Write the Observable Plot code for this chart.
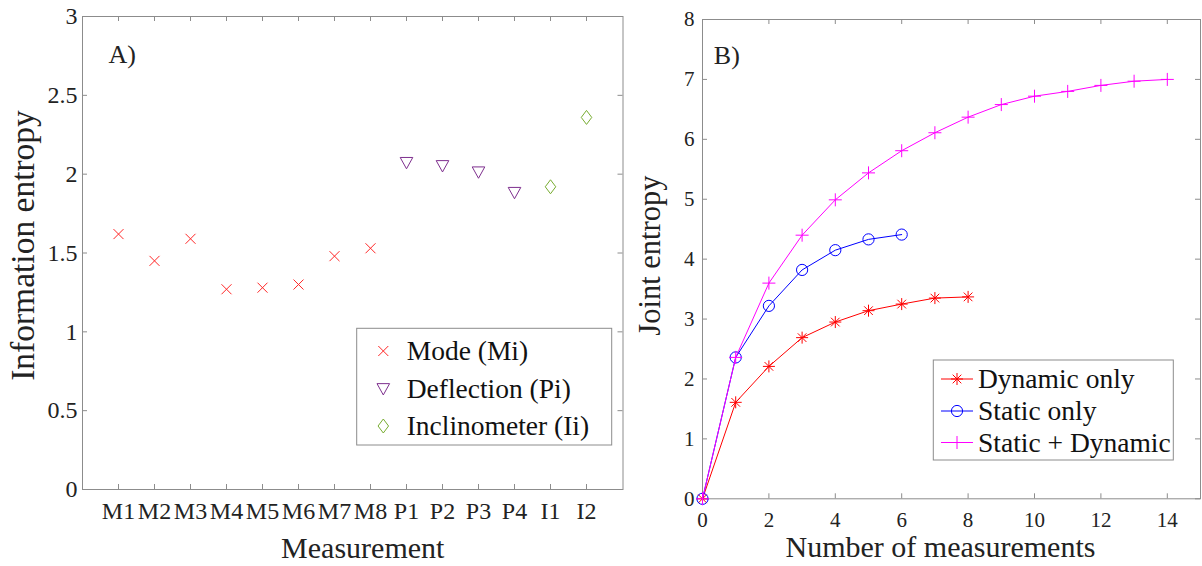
<!DOCTYPE html>
<html><head><meta charset="utf-8">
<script src="https://cdn.jsdelivr.net/npm/d3@7"></script>
<script src="https://cdn.jsdelivr.net/npm/@observablehq/plot@0.6"></script>
<style>
body{margin:0;background:#fff;}
#wrap{position:relative;width:1202px;height:566px;overflow:hidden;background:#fff;}
#wrap svg{position:absolute;top:0;}
</style></head><body><div id="wrap"></div>
<script>
// ---------- data: panel A ----------
const categories = ["M1","M2","M3","M4","M5","M6","M7","M8","P1","P2","P3","P4","I1","I2"];
const groupNames = ["Mode (Mi)","Deflection (Pi)","Inclinometer (Ii)"];
const modeValues = [1.62,1.45,1.59,1.27,1.28,1.30,1.48,1.53];
const deflectionValues = [2.07,2.05,2.01,1.88];
const inclinometerValues = [1.92,2.36];
const leftYTicks = [0,0.5,1,1.5,2,2.5,3];

// ---------- data: panel B ----------
const seriesNames = ["Dynamic only","Static only","Static + Dynamic"];
const dynamicOnly = [0,1.61,2.21,2.69,2.95,3.14,3.25,3.35,3.37];
const staticOnly = [0,2.36,3.22,3.82,4.15,4.33,4.41];
const staticDynamic = [0,2.36,3.60,4.40,4.99,5.44,5.81,6.11,6.37,6.58,6.72,6.80,6.90,6.97,7.00];
const rightXTicks = [0,2,4,6,8,10,12,14];
const rightYTicks = [0,1,2,3,4,5,6,7,8];

// ---------- style ----------
const FONT = "'Liberation Serif','Times New Roman',serif";
const FRAME = "#8c8c8c";
const INK = "#222";
const H = 566;
const fmt = d => String(d);

function sym(draw){ return {draw(ctx,size){ const h=Math.sqrt(size/Math.PI); draw(ctx,h);} }; }
const symTimes = sym((c,h)=>{c.moveTo(-h,-h);c.lineTo(h,h);c.moveTo(-h,h);c.lineTo(h,-h);});
const symTriDown = sym((c,h)=>{c.moveTo(-h,-0.9*h);c.lineTo(h,-0.9*h);c.lineTo(0,0.9*h);c.closePath();});
const symDiamond = sym((c,h)=>{c.moveTo(0,-h);c.lineTo(0.75*h,0);c.lineTo(0,h);c.lineTo(-0.75*h,0);c.closePath();});
const symAsterisk = sym((c,h)=>{c.moveTo(0,-h);c.lineTo(0,h);c.moveTo(-h,0);c.lineTo(h,0);const d=h*0.72;c.moveTo(-d,-d);c.lineTo(d,d);c.moveTo(-d,d);c.lineTo(d,-d);});
const symPlus = sym((c,h)=>{c.moveTo(0,-h);c.lineTo(0,h);c.moveTo(-h,0);c.lineTo(h,0);});
const symCircle = sym((c,h)=>{c.moveTo(h,0);c.arc(0,0,h,0,2*Math.PI);});

const leftStyles = [
  {symbol: symTimes, r: 5, color: "#ff2626"},
  {symbol: symTriDown, r: 6.3, color: "#7E2F8E"},
  {symbol: symDiamond, r: 7, color: "#77AC30"}
];
const rightStyles = [
  {symbol: symAsterisk, r: 6, color: "#ff0000"},
  {symbol: symCircle, r: 5.6, color: "#0000ff"},
  {symbol: symPlus, r: 6.5, color: "#ff00ff"}
];

const wrap = document.getElementById("wrap");

// ---------- panel A ----------
const leftW = 640;
const LM = {top:16, bottom:77, left:82, right:17.5};
const lfH = H - LM.top - LM.bottom, lfW = leftW - LM.left - LM.right;
const groupValues = [modeValues, deflectionValues, inclinometerValues];
let offset = 0;
const leftRows = [];
groupValues.forEach((vals, g) => {
  vals.forEach((v, i) => leftRows.push({cat: categories[offset + i], value: v, group: g}));
  offset += vals.length;
});

const left = Plot.plot({
  width: leftW, height: H,
  marginTop: LM.top, marginBottom: LM.bottom, marginLeft: LM.left, marginRight: LM.right,
  style: {fontFamily: FONT, background: "transparent", color: INK},
  x: {type: "point", domain: categories, padding: 1},
  y: {domain: [0, 3]},
  marks: [
    Plot.frame({stroke: FRAME}),
    Plot.tickX(categories, {x: d => d, insetTop: lfH - 5, stroke: FRAME}),
    Plot.tickX(categories, {x: d => d, insetBottom: lfH - 5, stroke: FRAME}),
    Plot.tickY(leftYTicks, {y: d => d, insetRight: lfW - 5, stroke: FRAME}),
    Plot.tickY(leftYTicks, {y: d => d, insetLeft: lfW - 5, stroke: FRAME}),
    Plot.axisX({tickSize: 0, tickPadding: 12, fontSize: 24, label: null, fill: INK}),
    Plot.axisY({ticks: leftYTicks, tickFormat: fmt, tickSize: 0, tickPadding: 5, fontSize: 24, label: null, fill: INK}),
    ...groupNames.map((name, g) => Plot.dot(leftRows.filter(d => d.group === g), {
      x: "cat", y: "value", symbol: leftStyles[g].symbol, r: leftStyles[g].r,
      stroke: leftStyles[g].color, fill: "none", strokeWidth: 1
    })),
    Plot.text(["A)"], {text: d => d, frameAnchor: "top-left", textAnchor: "start", lineAnchor: "middle", dx: 26, dy: 38, fontSize: 26, fill: INK}),
    Plot.text(["Measurement"], {text: d => d, frameAnchor: "bottom", textAnchor: "middle", lineAnchor: "middle", dx: 10, dy: 59, fontSize: 30, fill: INK}),
    Plot.text(["Information entropy"], {text: d => d, frameAnchor: "left", textAnchor: "middle", lineAnchor: "middle", rotate: -90, dx: -59, dy: -7.5, fontSize: 33.5, fill: INK})
  ]
});
left.style.left = "0px";
wrap.appendChild(left);

// ---------- panel B ----------
const rightLeft = 620;
const rightW = 1202 - rightLeft;
const RM = {top:19, bottom:67.7, left:82, right:2};
const rightSeries = [dynamicOnly, staticOnly, staticDynamic];
const rightRows = [];
rightSeries.forEach((vals, s) => vals.forEach((v, i) => rightRows.push({n: i, value: v, series: s})));
const rfH = H - RM.top - RM.bottom, rfW = rightW - RM.left - RM.right;

const right = Plot.plot({
  width: rightW, height: H,
  marginTop: RM.top, marginBottom: RM.bottom, marginLeft: RM.left, marginRight: RM.right,
  style: {fontFamily: FONT, background: "transparent", color: INK},
  x: {domain: [0, 15]},
  y: {domain: [0, 8]},
  marks: [
    Plot.frame({stroke: FRAME}),
    Plot.tickX(rightXTicks, {x: d => d, insetTop: rfH - 5, stroke: FRAME}),
    Plot.tickX(rightXTicks, {x: d => d, insetBottom: rfH - 5, stroke: FRAME}),
    Plot.tickY(rightYTicks, {y: d => d, insetRight: rfW - 5, stroke: FRAME}),
    Plot.tickY(rightYTicks, {y: d => d, insetLeft: rfW - 5, stroke: FRAME}),
    Plot.axisX({ticks: rightXTicks, tickFormat: fmt, tickSize: 0, tickPadding: 13, fontSize: 21, label: null, fill: INK}),
    Plot.axisY({ticks: rightYTicks, tickFormat: fmt, tickSize: 0, tickPadding: 8, fontSize: 21, label: null, fill: INK}),
    ...seriesNames.flatMap((name, s) => [
      Plot.line(rightRows.filter(d => d.series === s), {x: "n", y: "value", stroke: rightStyles[s].color, strokeWidth: 1}),
      Plot.dot(rightRows.filter(d => d.series === s), {x: "n", y: "value", symbol: rightStyles[s].symbol, r: rightStyles[s].r, stroke: rightStyles[s].color, fill: "none", strokeWidth: 1})
    ]),
    Plot.text(["B)"], {text: d => d, frameAnchor: "top-left", textAnchor: "start", lineAnchor: "middle", dx: 11.3, dy: 36.5, fontSize: 26, fill: INK}),
    Plot.text(["Number of measurements"], {text: d => d, frameAnchor: "bottom", textAnchor: "middle", lineAnchor: "middle", dx: -11, dy: 48.7, fontSize: 30, fill: INK}),
    Plot.text(["Joint entropy"], {text: d => d, frameAnchor: "left", textAnchor: "middle", lineAnchor: "middle", rotate: -90, dx: -52, dy: -3.5, fontSize: 30.5, fill: INK})
  ]
});
right.style.left = rightLeft + "px";
wrap.appendChild(right);

// ---------- legends ----------
function legend(svg, box, rows, opts) {
  const g = d3.select(svg).append("g").attr("font-family", FONT).attr("font-size", opts.fontSize).attr("text-anchor", "start");
  g.append("rect").attr("x", box.x0).attr("y", box.y0).attr("width", box.x1 - box.x0).attr("height", box.y1 - box.y0)
    .attr("fill", "#fff").attr("stroke", FRAME).attr("stroke-width", 1);
  rows.forEach((row, i) => {
    const y = opts.rowY[i];
    if (opts.line) {
      g.append("line").attr("x1", opts.line[0]).attr("x2", opts.line[1]).attr("y1", y).attr("y2", y)
        .attr("stroke", row.color).attr("stroke-width", 1);
    }
    g.append("path").attr("transform", `translate(${opts.markerX},${y})`)
      .attr("d", d3.symbol(row.symbol, Math.PI * row.r * row.r)())
      .attr("fill", "none").attr("stroke", row.color).attr("stroke-width", 1);
    g.append("text").attr("x", opts.textX).attr("y", y).attr("dy", "0.33em").attr("text-anchor", "start").attr("fill", "#111").text(row.label);
  });
}
legend(left, {x0: 356.7, y0: 328.3, x1: 611.7, y1: 445},
  groupNames.map((label, g) => ({label, ...leftStyles[g]})),
  {fontSize: 27.5, rowY: [351, 389.3, 426], markerX: 383.3, textX: 406.7});
const ox = rightLeft;
legend(right, {x0: 933.3 - ox, y0: 360, x1: 1173.3 - ox, y1: 460},
  seriesNames.map((label, s) => ({label, ...rightStyles[s]})),
  {fontSize: 27.5, rowY: [379, 411, 442.5], markerX: 957 - ox, textX: 978 - ox, line: [941 - ox, 973 - ox]});
</script></body></html>
